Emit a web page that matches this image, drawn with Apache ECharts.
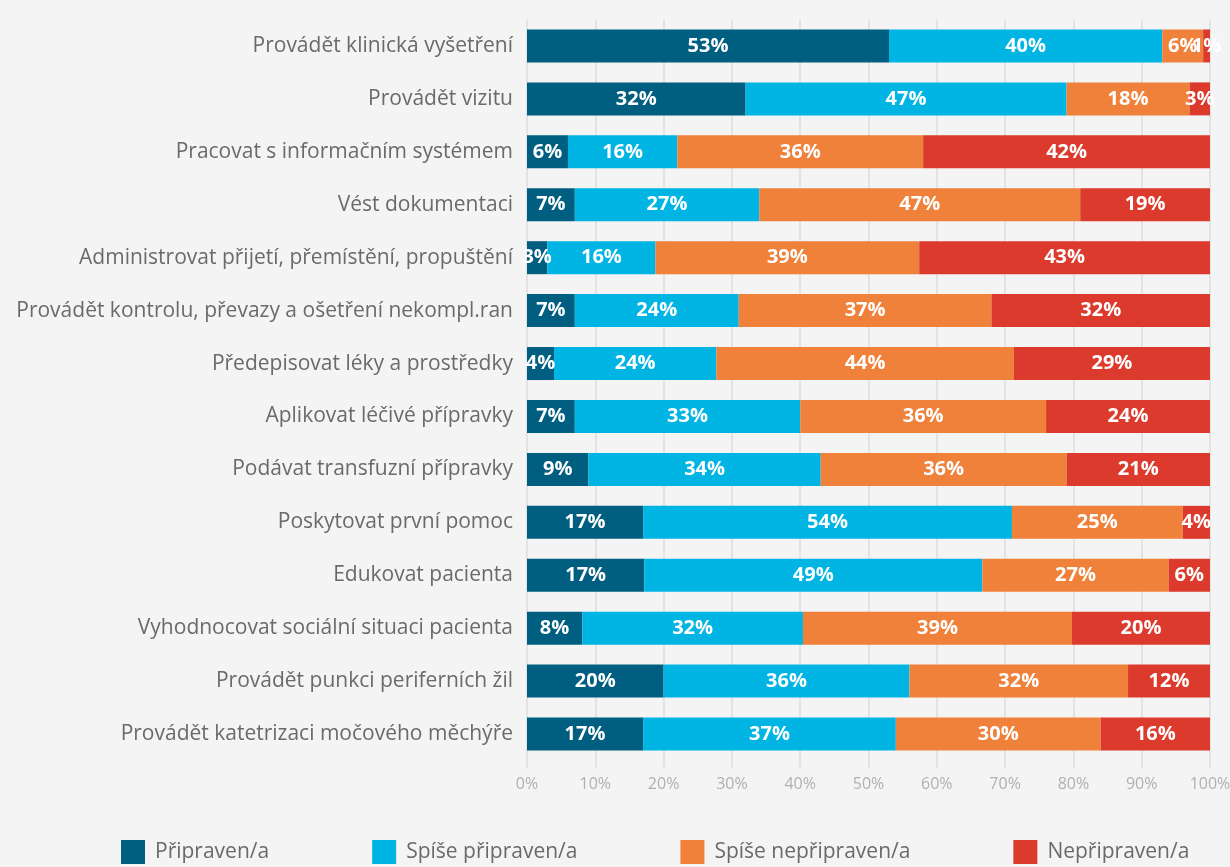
<!DOCTYPE html>
<html><head><meta charset="utf-8">
<script src="https://cdn.jsdelivr.net/npm/echarts@6/dist/echarts.min.js"></script>
<style>html,body{margin:0;padding:0;background:#f4f4f4}#c{width:1230px;height:867px}</style>
</head><body><div id="c"></div>
<script>
const categories = [
  "Provádět klinická vyšetření",
  "Provádět vizitu",
  "Pracovat s informačním systémem",
  "Vést dokumentaci",
  "Administrovat přijetí, přemístění, propuštění",
  "Provádět kontrolu, převazy a ošetření nekompl.ran",
  "Předepisovat léky a prostředky",
  "Aplikovat léčivé přípravky",
  "Podávat transfuzní přípravky",
  "Poskytovat první pomoc",
  "Edukovat pacienta",
  "Vyhodnocovat sociální situaci pacienta",
  "Provádět punkci periferních žil",
  "Provádět katetrizaci močového měchýře"
];
const seriesNames = ["Připraven/a", "Spíše připraven/a", "Spíše nepřipraven/a", "Nepřipraven/a"];
const pripraven      = [53, 32, 6, 7, 3, 7, 4, 7, 9, 17, 17, 8, 20, 17];
const spisePripraven = [40, 47, 16, 27, 16, 24, 24, 33, 34, 54, 49, 32, 36, 37];
const spiseNepripr   = [6, 18, 36, 47, 39, 37, 44, 36, 36, 25, 27, 39, 32, 30];
const nepripraven    = [1, 3, 42, 19, 43, 32, 29, 24, 21, 4, 6, 20, 12, 16];
const xTicks = ["0%","10%","20%","30%","40%","50%","60%","70%","80%","90%","100%"];

const colors = ["#005e80", "#00b4e3", "#f0813b", "#dc3a2c"];
const raw = [pripraven, spisePripraven, spiseNepripr, nepripraven];
const totals = categories.map((_, i) => raw.reduce((s, a) => s + a[i], 0));
const FONT = "Open Sans";

const series = raw.map((arr, k) => ({
  name: seriesNames[k],
  type: 'bar',
  stack: 'all',
  barWidth: 33,
  itemStyle: { color: colors[k] },
  data: arr.map((v, i) => ({ value: v / totals[i] * 100, raw: v })),
  label: {
    show: true,
    position: 'inside',
    color: '#fff',
    fontFamily: FONT,
    fontWeight: 'bold',
    fontSize: 20,
    formatter: p => p.data.raw + '%'
  }
}));

const chart = echarts.init(document.getElementById('c'));
chart.setOption({
  backgroundColor: '#f4f4f4',
  animation: false,
  textStyle: { fontFamily: FONT },
  grid: { left: 527, right: 20, top: 19.5, height: 741, containLabel: false, outerBoundsMode: 'none' },
  xAxis: {
    type: 'value', min: 0, max: 100, interval: 10,
    axisLine: { show: false },
    axisTick: { show: true, length: 8, lineStyle: { color: '#e3e3e3', width: 2 } },
    splitLine: { show: true, lineStyle: { color: '#e3e3e3', width: 2 } },
    axisLabel: { color: '#b0b0b0', fontSize: 16, margin: 16, fontFamily: FONT,
      formatter: v => xTicks[Math.round(v / 10)] }
  },
  yAxis: {
    type: 'category', data: categories, inverse: true,
    axisLine: { show: false }, axisTick: { show: false },
    axisLabel: { color: '#6a6a6a', fontSize: 21, margin: 14, fontFamily: FONT }
  },
  legend: {
    data: seriesNames,
    left: 121, top: 840, padding: 0,
    itemWidth: 24, itemHeight: 24, itemGap: 103,
    icon: 'rect',
    textStyle: { color: '#6a6a6a', fontSize: 21, fontFamily: FONT, padding: [0, 0, 0, 5] }
  },
  series
});
</script></body></html>
